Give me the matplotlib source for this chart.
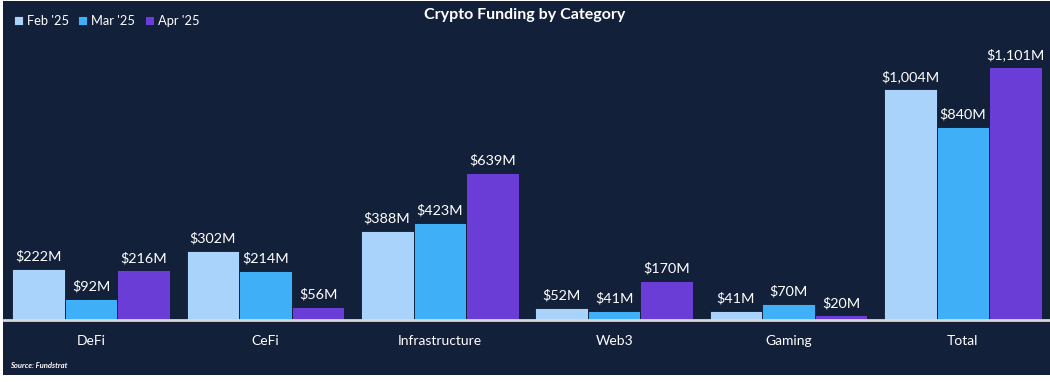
import matplotlib
matplotlib.use("Agg")
import matplotlib.pyplot as plt
from matplotlib.patches import Rectangle
import numpy as np

categories = ["DeFi", "CeFi", "Infrastructure", "Web3", "Gaming", "Total"]
series_names = ["Feb '25", "Mar '25", "Apr '25"]
feb = [222, 302, 388, 52, 41, 1004]
mar = [92, 214, 423, 41, 70, 840]
apr = [216, 56, 639, 170, 20, 1101]
colors = ["#a9d3fa", "#3fb0f8", "#6a3ed6"]
bg = "#13203a"

W, H = 1050, 382
fig = plt.figure(figsize=(W / 100, H / 100), dpi=100)
fig.patch.set_facecolor("white")
fig.patches.append(Rectangle((3 / W, 1 - 375 / H), (W - 3) / W, 374 / H,
                             transform=fig.transFigure, facecolor=bg,
                             edgecolor="none", zorder=-5))

ax_left, ax_right = 4, 1050
ax_bottom, ax_top = 320, 30
ax = fig.add_axes([ax_left / W, 1 - ax_bottom / H, (ax_right - ax_left) / W,
                   (ax_bottom - ax_top) / H])
ax.set_zorder(1)
ax.set_facecolor("none")
px_per_m = 253 / 1101
ax.set_ylim(0, (ax_bottom - ax_top) / px_per_m)
ax.set_xlim(-0.5, len(categories) - 0.5)

x = np.arange(len(categories))
bw = 0.302
font = "Lato"
for i, (vals, name) in enumerate(zip([feb, mar, apr], series_names)):
    pos = x + (i - 1) * bw
    ax.bar(pos, vals, width=bw, color=colors[i], edgecolor="#0f1a30",
           linewidth=0.6, label=name, zorder=2)
    for p, v in zip(pos, vals):
        ax.text(p, v + 27, f"${v:,}M", ha="center", va="bottom",
                color="white", fontsize=10.4, family=font)

for s in ["top", "right", "left"]:
    ax.spines[s].set_visible(False)
ax.spines["bottom"].set_color("#d9d9d9")
ax.spines["bottom"].set_linewidth(2)
ax.set_yticks([])
ax.set_xticks(x)
ax.set_xticklabels(categories, color="white", fontsize=10, family=font)
ax.tick_params(axis="x", length=0, pad=11)

fig.text(525 / W, 1 - 15.5 / H, "Crypto Funding by Category", ha="center",
         va="center", color="white", fontsize=11.5, fontweight="bold",
         family=font)

handles, labels = ax.get_legend_handles_labels()
leg = fig.legend(handles, labels, loc="upper left",
                 bbox_to_anchor=(2 / W, 1 - 3 / H),
                 ncol=3, frameon=False, handlelength=0.7,
                 handleheight=0.7, handletextpad=0.3, columnspacing=0.75,
                 prop={"family": font, "size": 9.3})
for t in leg.get_texts():
    t.set_color("white")

fig.text(10 / W, 1 - 365 / H, "Source: Fundstrat", ha="left", va="center",
         color="white", fontsize=5.5, fontweight="bold", style="italic",
         family=font)

fig.savefig("out.png", dpi=100, facecolor=fig.get_facecolor())
